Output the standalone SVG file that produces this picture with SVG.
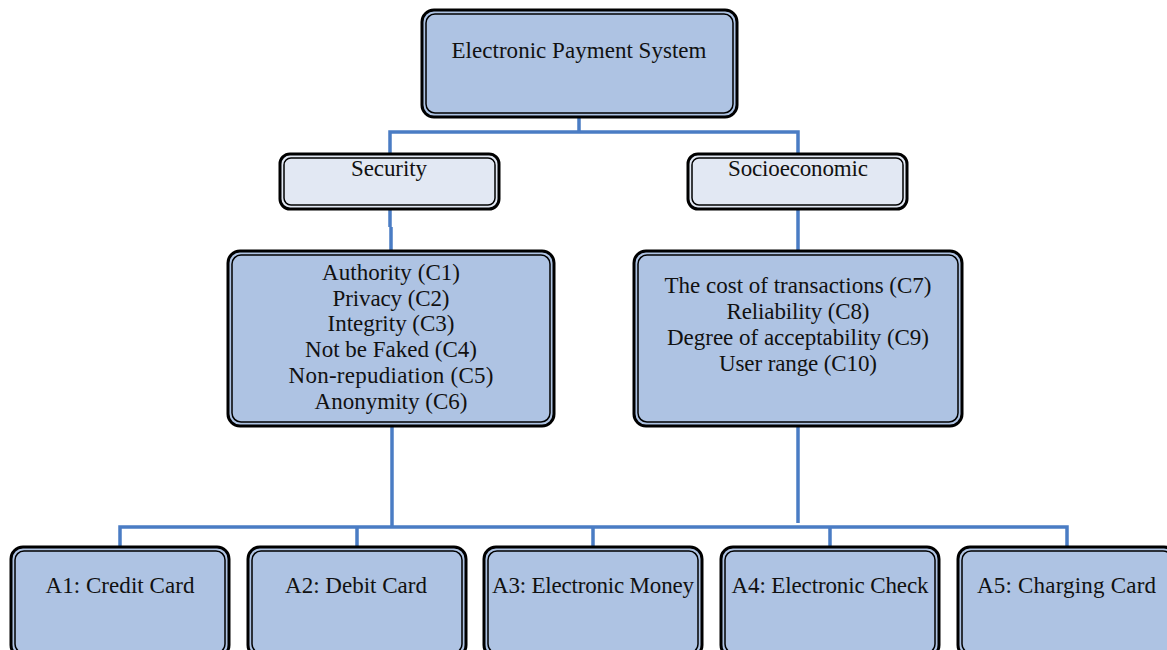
<svg xmlns="http://www.w3.org/2000/svg" width="1167" height="650" viewBox="0 0 1167 650">
<style>
.outer{stroke:#000;stroke-width:3}
.inner{fill:none;stroke:#000;stroke-width:1.5}
.main{fill:#AEC3E3}
.light{fill:#E2E8F3}
text{font-family:"Liberation Serif","Times New Roman",serif;font-size:23px;fill:#111;text-anchor:middle}
.conn{fill:none;stroke:#4A7CC4;stroke-width:3.5}
</style>
<rect width="1167" height="650" fill="#fff"/>
<g id="connectors">
<path class="conn" d="M579,117 V132 M390,154 V132 H798 V154"/>
<path class="conn" d="M390,209 V227 M391,227 V251"/>
<path class="conn" d="M798,209 V251"/>
<path class="conn" d="M392,426 V527"/>
<path class="conn" d="M798,426 V523"/>
<path class="conn" d="M120,547 V527 H1067 V547 M357,527 V547 M593,527 V547 M830,527 V547"/>
</g>
<g id="root">
<rect class="outer main" x="422" y="10" width="315" height="107" rx="12"/>
<rect class="inner" x="426" y="14" width="307" height="99" rx="9"/>
<text x="579" y="58" textLength="255">Electronic Payment System</text>
</g>
<g id="security">
<rect class="outer light" x="280" y="154" width="219" height="55" rx="10"/>
<rect class="inner" x="284" y="158" width="211" height="47" rx="7"/>
<text x="389" y="175.5" textLength="76">Security</text>
</g>
<g id="socioeconomic">
<rect class="outer light" x="688" y="154" width="219" height="55" rx="10"/>
<rect class="inner" x="692" y="158" width="211" height="47" rx="7"/>
<text x="798" y="175.5" textLength="140">Socioeconomic</text>
</g>
<g id="security-criteria">
<rect class="outer main" x="228" y="251" width="326" height="175" rx="12"/>
<rect class="inner" x="232" y="255" width="318" height="167" rx="9"/>
<text x="391" y="280" textLength="138">Authority (C1)</text>
<text x="391" y="305.7" textLength="117">Privacy (C2)</text>
<text x="391" y="331.4" textLength="127">Integrity (C3)</text>
<text x="391" y="357.1" textLength="172">Not be Faked (C4)</text>
<text x="391" y="382.8" textLength="205">Non-repudiation (C5)</text>
<text x="391" y="408.5" textLength="153">Anonymity (C6)</text>
</g>
<g id="socio-criteria">
<rect class="outer main" x="634" y="251" width="328" height="175" rx="12"/>
<rect class="inner" x="638" y="255" width="320" height="167" rx="9"/>
<text x="798" y="293.3" textLength="267">The cost of transactions (C7)</text>
<text x="798" y="319.3" textLength="143">Reliability (C8)</text>
<text x="798" y="345" textLength="262">Degree of acceptability (C9)</text>
<text x="798" y="370.5" textLength="158">User range (C10)</text>
</g>
<g id="a1">
<rect class="outer main" x="11" y="547" width="218" height="110" rx="12"/>
<rect class="inner" x="15" y="551" width="210" height="102" rx="9"/>
<text x="120" y="593.3" textLength="149">A1: Credit Card</text>
</g>
<g id="a2">
<rect class="outer main" x="248" y="547" width="218" height="110" rx="12"/>
<rect class="inner" x="252" y="551" width="210" height="102" rx="9"/>
<text x="356" y="593.3" textLength="142">A2: Debit Card</text>
</g>
<g id="a3">
<rect class="outer main" x="484" y="547" width="218" height="110" rx="12"/>
<rect class="inner" x="488" y="551" width="210" height="102" rx="9"/>
<text x="593" y="593.3" textLength="202">A3: Electronic Money</text>
</g>
<g id="a4">
<rect class="outer main" x="721" y="547" width="218" height="110" rx="12"/>
<rect class="inner" x="725" y="551" width="210" height="102" rx="9"/>
<text x="830" y="593.3" textLength="197">A4: Electronic Check</text>
</g>
<g id="a5">
<rect class="outer main" x="958" y="547" width="218" height="110" rx="12"/>
<rect class="inner" x="962" y="551" width="210" height="102" rx="9"/>
<text x="1066.5" y="593.3" textLength="179">A5: Charging Card</text>
</g>
</svg>
